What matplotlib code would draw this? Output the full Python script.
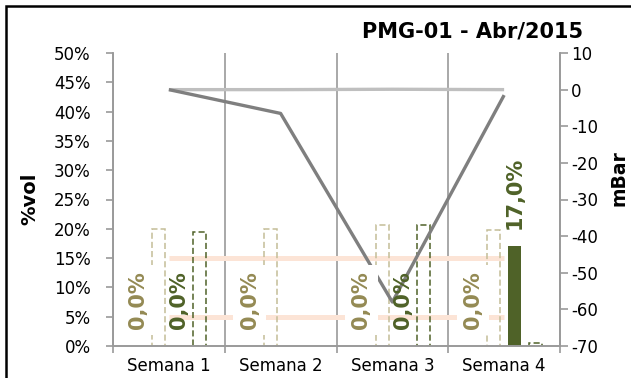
import matplotlib
matplotlib.use("Agg")
import matplotlib.pyplot as plt
import numpy as np
from matplotlib.patches import Rectangle


CATEGORIES = ["Semana 1", "Semana 2", "Semana 3", "Semana 4"]

# %vol (left axis)
O2_VOL = [0.0, 0.0, 0.0, 0.0]
O2_REF = [20.0, 19.9, 20.6, 19.8]
CO2_VOL = [0.0, np.nan, 0.0, 17.0]
CO2_REF = [19.4, np.nan, 20.6, 0.45]
LIMIT_HIGH = [15.0, 15.0, 15.0, 15.0]
LIMIT_LOW = [5.0, 5.0, 5.0, 5.0]

# mBar (right axis)
PRESSURE_REF = [0.0, 0.0, 0.1, 0.0]
PRESSURE = [0.0, -6.5, -58.0, -1.5]

Y_TICKS = [0, 5, 10, 15, 20, 25, 30, 35, 40, 45, 50]
Y2_TICKS = [10, 0, -10, -20, -30, -40, -50, -60, -70]

TAN = "#c4bd97"
TAN_DARK = "#948a54"
GREEN = "#4f6228"
PEACH = "#fce4d6"
GRAY_AXIS = "#9a9a9a"


def fmt_pct(v):
    return f"{v:.1f}%".replace(".", ",")


def main():
    plt.rcParams["axes.unicode_minus"] = False

    fig = plt.figure(figsize=(6.31, 3.78), dpi=100)
    ax = fig.add_axes([113 / 631, 32 / 378, 447 / 631, 293 / 378])

    x = np.arange(len(CATEGORIES))
    slots = [-0.277, -0.092, 0.092, 0.277]
    width = 0.115
    dash = (0, (4, 2))

    # vertical separators between weeks
    ax.set_xlim(-0.5, len(CATEGORIES) - 0.5)
    ax.set_xticks(np.arange(-0.5, len(CATEGORIES)), labels=[])
    ax.set_xticks(x, labels=CATEGORIES, minor=True)
    ax.grid(axis="x", which="major", color=GRAY_AXIS, lw=1.2)
    ax.set_axisbelow(True)

    ax.plot(x, LIMIT_HIGH, color=PEACH, lw=3.6, solid_capstyle="butt", zorder=1)
    ax.plot(x, LIMIT_LOW, color=PEACH, lw=3.6, solid_capstyle="butt", zorder=1)

    o2_ref = np.array(O2_REF)
    co2_vol = np.array(CO2_VOL)
    co2_ref = np.array(CO2_REF)

    ax.bar(x + slots[0], O2_VOL, width, color=TAN_DARK, zorder=2)
    ax.bar(x + slots[1], o2_ref, width, fill=False, edgecolor=TAN,
           linestyle=dash, lw=1.1, zorder=2)
    ok = np.isfinite(co2_vol)
    ax.bar(x[ok] + slots[2], co2_vol[ok], width, color=GREEN, zorder=2)
    ok = np.isfinite(co2_ref)
    ax.bar(x[ok] + slots[3], co2_ref[ok], width, fill=False, edgecolor=GREEN,
           linestyle=dash, lw=1.1, zorder=2)

    ax.set_ylim(0, 50)
    ax.set_yticks(Y_TICKS, labels=[f"{v}%" for v in Y_TICKS])
    ax.tick_params(axis="y", direction="out", length=5, width=1.2,
                   color=GRAY_AXIS, pad=11, labelsize=12)
    ax.tick_params(axis="x", which="major", direction="out", length=5,
                   width=1.2, color=GRAY_AXIS)
    ax.tick_params(axis="x", which="minor", length=0, pad=8, labelsize=12)
    for side in ["left", "bottom", "right"]:
        ax.spines[side].set_color(GRAY_AXIS)
        ax.spines[side].set_linewidth(1.2)
    ax.spines["top"].set_visible(False)

    ax2 = ax.twinx()
    ax2.plot(x, PRESSURE_REF, color="#bfbfbf", lw=2.4, solid_capstyle="butt")
    ax2.plot(x, PRESSURE, color="#7f7f7f", lw=2.4, solid_capstyle="butt")
    ax2.set_ylim(-70, 10)
    ax2.set_yticks(Y2_TICKS)
    ax2.tick_params(axis="y", direction="out", length=6, width=1.2,
                    color=GRAY_AXIS, pad=2, labelsize=12)
    for side in ["left", "bottom", "right"]:
        ax2.spines[side].set_color(GRAY_AXIS)
        ax2.spines[side].set_linewidth(1.2)
    ax2.spines["top"].set_visible(False)

    # data labels (drawn on the top axes so they cover the lines)
    for i, v in enumerate(O2_VOL):
        ax2.annotate(fmt_pct(v), xy=(x[i] + slots[0], v), xycoords=ax.transData,
                     xytext=(0, 12.5), textcoords="offset points",
                     rotation=90, ha="center", va="bottom", fontsize=15,
                     fontweight="bold", color=TAN_DARK,
                     bbox=dict(boxstyle="square,pad=0.3", fc="white", ec="none"))
    for i, v in enumerate(CO2_VOL):
        if not np.isfinite(v):
            continue
        ax2.annotate(fmt_pct(v), xy=(x[i] + slots[2], v), xycoords=ax.transData,
                     xytext=(0, 12.5), textcoords="offset points",
                     rotation=90, ha="center", va="bottom", fontsize=15,
                     fontweight="bold", color=GREEN)

    fig.text(30 / 631, 1 - 199 / 378, "%vol", rotation=90, ha="center",
             va="center", fontsize=14, fontweight="bold")
    fig.text(619 / 631, 1 - 178 / 378, "mBar", rotation=90, ha="center",
             va="center", fontsize=13.5, fontweight="bold")
    fig.text(583 / 631, 1 - 31.5 / 378, "PMG-01 - Abr/2015", ha="right",
             va="center", fontsize=15, fontweight="bold")

    fig.patches.append(Rectangle((6.2 / 631, -0.1), 1.2, 1.1 - 6.2 / 378,
                                 transform=fig.transFigure, fill=False,
                                 ec="black", lw=1.8))

    fig.savefig("out.png", dpi=100)
    plt.close(fig)


if __name__ == "__main__":
    main()
